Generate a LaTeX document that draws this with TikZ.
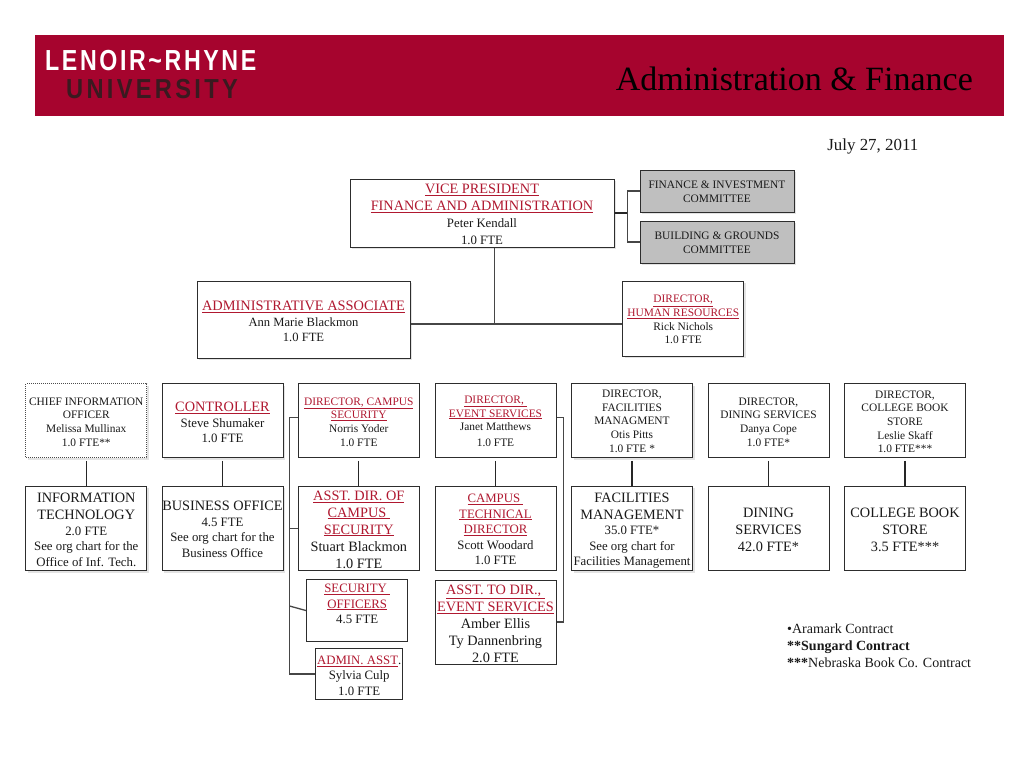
\documentclass[tikz,border=0pt]{standalone}
\usepackage{fontspec}
\setmainfont{Liberation Serif}
\newfontfamily\logofont[FakeStretch=0.8,LetterSpace=9]{Liberation Sans}
\newfontfamily\logolowfont[FakeStretch=0.86,LetterSpace=12]{Liberation Sans}
\usetikzlibrary{shadows}
\definecolor{HeaderRed}{RGB}{166, 4, 46}
\definecolor{TitleRed}{RGB}{176, 24, 48}
\definecolor{LogoDark}{RGB}{58, 26, 32}
\definecolor{BoxLine}{RGB}{45, 45, 45}
\definecolor{LinkGray}{RGB}{70, 70, 70}
\definecolor{CommitteeGray}{RGB}{191, 191, 191}
\newcommand{\szS}{\fontsize{11.4}{13.7}\selectfont}
\newcommand{\szM}{\fontsize{12.8}{15.5}\selectfont}
\newcommand{\szL}{\fontsize{14.3}{17}\selectfont}
\newcommand{\redu}[1]{\textcolor{TitleRed}{\underline{#1}}}
\newcommand{\liftline}[1]{\rule{0pt}{#1pt}}

\begin{document}
\begin{tikzpicture}[
    x=1pt, y=-1pt,
    box/.style={draw=BoxLine, line width=1pt, fill=white, inner sep=0pt, align=center, text=black!90},
    soft/.style={general shadow={fill=black!11, shadow xshift=2pt, shadow yshift=-2pt}},
    toprow/.style={box, minimum width=121pt, minimum height=74pt},
    lowrow/.style={box, minimum width=121pt, minimum height=84.4pt},
    committee/.style={box, soft, fill=CommitteeGray, minimum width=154pt, minimum height=42pt, font=\szS},
    link/.style={draw=LinkGray, line width=1.3pt},
    drop/.style={link, draw=black!85, shorten <=3pt}
  ]
    \useasboundingbox (0,0) rectangle (1024,768);

    % Header band
    \fill[HeaderRed] (35,35) rectangle (1004,116);
    \node[text=white, font=\logofont\bfseries\fontsize{29}{30}\selectfont, anchor=west, inner sep=0pt] (logotop) at (45,60.5) {LENOIR\textasciitilde RHYNE};
    \node[text=LogoDark, font=\logolowfont\bfseries\fontsize{27.5}{30}\selectfont, anchor=west, inner sep=0pt] (logolow) at (66,89) {UNIVERSITY};
    \node[font=\fontsize{34}{36}\selectfont, text=black, anchor=east, inner sep=0pt] (title) at (973,79) {Administration \& Finance};
    \node[font=\fontsize{16.9}{18}\selectfont, text=black!90, anchor=east, inner sep=0pt] (date) at (918.5,146) {July 27, 2011};

    % Vice president and committees
    \node[box, soft, font=\szL, minimum width=264pt, minimum height=68pt] (vp) at (482,213) {\liftline{12.5}\redu{VICE PRESIDENT}\\ \redu{FINANCE AND ADMINISTRATION}\\ \szM Peter Kendall\\ \szM 1.0 FTE};
    \node[committee] (fininv) at (717,191) {\liftline{9.5}FINANCE \& INVESTMENT\\ COMMITTEE};
    \node[committee] (buildgr) at (717,242) {\liftline{9.5}BUILDING \& GROUNDS\\ COMMITTEE};

    % Second level
    \node[box, soft, font=\fontsize{12.6}{15.8}\selectfont, minimum width=213pt, minimum height=77pt] (adminassoc) at (303.5,319.5) {\fontsize{14.4}{17}\selectfont\liftline{13.5}\redu{ADMINISTRATIVE ASSOCIATE}\\ Ann Marie Blackmon\\ 1.0 FTE};
    \node[box, soft, font=\szS, minimum width=121pt, minimum height=75pt] (hrdir) at (683.2,318.5) {\liftline{10}\redu{DIRECTOR,}\\ \redu{HUMAN RESOURCES}\\ Rick Nichols\\ 1.0 FTE};

    % Directors
    \node[toprow, soft, font=\szS, draw=black!70, densely dotted] (cio) at (86.3,420.8) {\liftline{10}CHIEF INFORMATION\\ OFFICER\\ Melissa Mullinax\\ 1.0 FTE**};
    \node[toprow, soft, font=\szM] (controller) at (222.5,420.8) {\szL\liftline{13.5}\redu{CONTROLLER}\\ Steve Shumaker\\ 1.0 FTE};
    \node[toprow, font=\szS] (campus) at (358.8,420.8) {\liftline{10}\redu{DIRECTOR, CAMPUS}\\ \redu{SECURITY}\\ Norris Yoder\\ 1.0 FTE};
    \node[toprow, font=\szS] (event) at (495.5,420.8) {\liftline{8.5}\redu{DIRECTOR,\ }\\ \redu{EVENT SERVICES}\\ Janet Matthews\\[2pt] 1.0 FTE};
    \node[toprow, soft, font=\szS] (facdir) at (632,420.8) {\liftline{8.5}DIRECTOR,\\ FACILITIES\\ MANAGMENT\\ Otis Pitts\\ 1.0 FTE *};
    \node[toprow, font=\szS] (dindir) at (768.5,420.8) {\liftline{10}DIRECTOR,\\ DINING SERVICES\\ Danya Cope\\ 1.0 FTE*};
    \node[toprow, font=\szS] (bookdir) at (905,420.8) {\liftline{9.5}DIRECTOR,\\ COLLEGE BOOK\\ STORE\\ Leslie Skaff\\ 1.0 FTE***};

    % Departments
    \node[lowrow, soft, font=\szM] (infotech) at (86.3,528.5) {\szL\liftline{12}INFORMATION\\[1.5pt] \szL TECHNOLOGY\\ 2.0 FTE\\ See org chart for the\\ Office of Inf. Tech.};
    \node[lowrow, soft, font=\szM] (bizoffice) at (222.5,528.5) {\szL\liftline{11.5}BUSINESS OFFICE\\ 4.5 FTE\\ See org chart for the\\ Business Office};
    \node[lowrow, font=\szL] (asstdir) at (358.8,528.5) {\liftline{11.5}\redu{ASST. DIR. OF}\\ \redu{CAMPUS\ }\\ \redu{SECURITY}\\ Stuart Blackmon\\ 1.0 FTE};
    \node[lowrow, font=\szM] (techdir) at (495.5,528.5) {\liftline{10.5}\redu{CAMPUS\ }\\ \redu{TECHNICAL}\\ \redu{DIRECTOR}\\ Scott Woodard\\ 1.0 FTE};
    \node[lowrow, soft, font=\szM] (facmgmt) at (632,528.5) {\szL\liftline{13.5}FACILITIES\\[1.5pt] \szL MANAGEMENT\\ 35.0 FTE*\\ See org chart for\\ Facilities Management};
    \node[lowrow, font=\szL] (dining) at (768.5,528.5) {\liftline{11.5}DINING\\ SERVICES\\ 42.0 FTE*};
    \node[lowrow, font=\szL] (bookstore) at (905,528.5) {\liftline{11.5}COLLEGE BOOK\\ STORE\\ 3.5 FTE***};

    % Lower boxes
    \node[box, font=\szM, minimum width=101pt, minimum height=61.3pt] (secoff) at (357.2,610.6) {\liftline{10.5}\redu{SECURITY\ }\\ \redu{OFFICERS}\\ 4.5 FTE\\ \mbox{}};
    \node[box, font=\szM, minimum width=87pt, minimum height=51.4pt] (adminasst) at (359.2,674) {\liftline{11.5}\redu{ADMIN. ASST}.\\ Sylvia Culp\\ 1.0 FTE};
    \node[box, font=\szL, minimum width=121pt, minimum height=84pt] (asstevent) at (495.5,622) {\liftline{12.5}\redu{ASST. TO DIR.,\ }\\ \redu{EVENT SERVICES}\\ Amber Ellis\\ Ty Dannenbring\\ 2.0 FTE};

    % Contract notes
    \node[anchor=west, align=left, inner sep=0pt, text=black!90, font=\fontsize{14}{17}\selectfont] (notes) at (787,645.5) {\textbullet Aramark Contract\\ \textbf{**Sungard Contract}\\ \textbf{***}Nebraska Book Co. Contract};

    % Bus coordinates
    \coordinate (busvp) at (627.3,213);
    \coordinate (busleft) at (289.5,674);
    \coordinate (busright) at (563.3,622);
    \coordinate (secfoot) at (289.5,606);
    \coordinate (vpfoot) at (494.7,324);

    % Connections
    \draw[link, draw=black!85] (vp.east |- busvp) -- (busvp);
    \draw[link] (fininv.west) -| (busvp) |- (buildgr.west);
    \draw[link] (vp.south -| vpfoot) -- (vpfoot);
    \draw[link] (adminassoc.east |- vpfoot) -- (hrdir.west |- vpfoot);

    \foreach \a/\b in {cio/infotech, controller/bizoffice, campus/asstdir, event/techdir, facdir/facmgmt, dindir/dining, bookdir/bookstore} {
      \draw[drop] (\a) ++(0,37) -- (\b.north);
    }

    \draw[link] ([yshift=3pt]campus.west) -| (busleft) -- (adminasst.west);
    \draw[link] (busleft |- asstdir.west) -- (asstdir.west);
    \draw[link] (secfoot) -- (secoff.west);
    \draw[link] ([yshift=3pt]event.east) -| (busright) -- (asstevent.east);
  \end{tikzpicture}
\end{document}
